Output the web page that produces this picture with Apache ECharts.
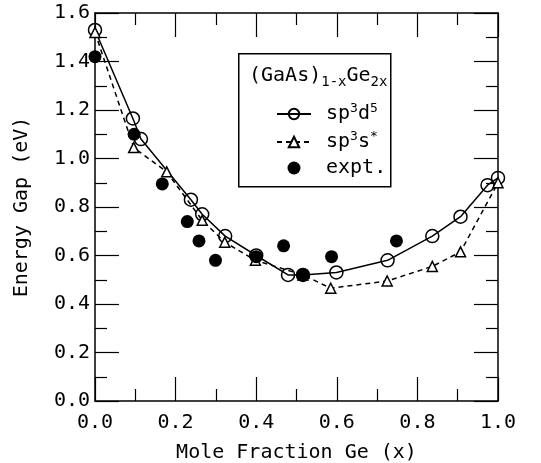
<!DOCTYPE html>
<html>
<head>
<meta charset="utf-8">
<script src="https://cdn.jsdelivr.net/npm/echarts@6/dist/echarts.min.js"></script>
<style>
html,body{margin:0;padding:0;background:#fff;}
#chart{width:541px;height:463px;}
</style>
</head>
<body>
<div id="chart"></div>
<script>
// sp3d5 (solid line, open circles)
var xSpd = [0.0, 0.094, 0.114, 0.238, 0.266, 0.323, 0.400, 0.479, 0.516, 0.599, 0.726, 0.837, 0.907, 0.974, 1.0];
var ySpd = [1.53, 1.165, 1.08, 0.83, 0.77, 0.68, 0.60, 0.52, 0.52, 0.53, 0.58, 0.68, 0.76, 0.89, 0.92];
// sp3s* (dashed line, open triangles)
var xSps = [0.0, 0.096, 0.178, 0.266, 0.322, 0.398, 0.516, 0.585, 0.725, 0.837, 0.907, 1.0];
var ySps = [1.52, 1.045, 0.945, 0.745, 0.655, 0.58, 0.52, 0.465, 0.495, 0.555, 0.615, 0.90];
// experiment (filled circles)
var xExp = [0.0, 0.097, 0.167, 0.229, 0.258, 0.299, 0.400, 0.468, 0.516, 0.587, 0.748];
var yExp = [1.42, 1.10, 0.895, 0.74, 0.66, 0.58, 0.595, 0.64, 0.52, 0.595, 0.66];

var xTicks = [0.0, 0.2, 0.4, 0.6, 0.8, 1.0];
var yTicks = [0.0, 0.2, 0.4, 0.6, 0.8, 1.0, 1.2, 1.4, 1.6];

function pairs(xs, ys){ return xs.map(function(x,i){ return [x, ys[i]]; }); }

var FONT = '"DejaVu Sans Mono", "Liberation Mono", monospace';
var chart = echarts.init(document.getElementById('chart'), null, {renderer:'canvas'});

function axisCommon(show){
  return {
    axisLine:{show:true, onZero:false, lineStyle:{color:'#000', width:1.5}},
    axisTick:{show:true, inside:true, length:24, lineStyle:{color:'#000', width:1.2}},
    minorTick:{show:true, splitNumber:2, length:12, lineStyle:{color:'#000', width:1.2}},
    splitLine:{show:false},
    axisLabel:{show:show, color:'#000', fontFamily:FONT, fontSize:20,
      formatter:function(v){ return v.toFixed(1); }}
  };
}

var xBottom = Object.assign({type:'value', position:'bottom', min:xTicks[0], max:xTicks[xTicks.length-1], interval:0.2,
  name:'Mole Fraction Ge (x)', nameLocation:'middle', nameGap:42,
  nameTextStyle:{color:'#000', fontFamily:FONT, fontSize:20}}, axisCommon(true));
xBottom.axisLabel.margin = 12;
var xTop = Object.assign({type:'value', position:'top', min:0, max:1, interval:0.2}, axisCommon(false));
var yLeft = Object.assign({type:'value', position:'left', min:yTicks[0], max:yTicks[yTicks.length-1], interval:0.2,
  name:'Energy Gap (eV)', nameLocation:'middle', nameGap:63,
  nameTextStyle:{color:'#000', fontFamily:FONT, fontSize:20}}, axisCommon(true));
yLeft.axisLabel.margin = 5;
var yRight = Object.assign({type:'value', position:'right', min:0, max:1.6, interval:0.2}, axisCommon(false));

var rich = {
  n:{fontFamily:FONT, fontSize:20, color:'#000', lineHeight:24},
  sup:{fontFamily:FONT, fontSize:13, color:'#000', lineHeight:24, verticalAlign:'top'}
};

var option = {
  backgroundColor:'#fff',
  animation:false,
  grid:{left:95, right:43, top:13, bottom:62, containLabel:false, outerBoundsMode:'none'},
  xAxis:[xBottom, xTop],
  yAxis:[yLeft, yRight],
  legend:{
    orient:'vertical', left:271, top:97, itemWidth:34, itemHeight:13, itemGap:6,
    data:['sp3d5','sp3s*','expt.'],
    formatter:function(name){
      if(name==='sp3d5') return '{n|sp}{sup|3}{n|d}{sup|5}';
      if(name==='sp3s*') return '{n|sp}{sup|3}{n|s}{sup|*}';
      return '{n|expt.}';
    },
    textStyle:{rich:rich, padding:[0,0,0,10]}
  },
  graphic:[
    {type:'rect', left:238, top:53, shape:{width:152, height:133},
      style:{fill:'transparent', stroke:'#000', lineWidth:1.5}, z:100},
    {type:'text', left:249, top:66,
      style:{text:'{t|(GaAs)}{s|1-x}{t|Ge}{s|2x}', rich:{
        t:{fontFamily:FONT, fontSize:20, fill:'#000', lineHeight:26},
        s:{fontFamily:FONT, fontSize:14, fill:'#000', lineHeight:26, verticalAlign:'bottom'}
      }}, z:100}
  ],
  series:[
    {name:'sp3d5', type:'line', data:pairs(xSpd, ySpd), clip:false,
      symbol:'circle', symbolSize:13,
      lineStyle:{color:'#000', width:1.5},
      itemStyle:{color:'transparent', borderColor:'#000', borderWidth:1.5}, z:2},
    {name:'sp3s*', type:'line', data:pairs(xSps, ySps), clip:false,
      symbol:'triangle', symbolSize:10,
      lineStyle:{color:'#000', width:1.5, type:[5,4]},
      itemStyle:{color:'#fff', borderColor:'#000', borderWidth:1.5}, z:3},
    {name:'expt.', type:'scatter', data:pairs(xExp, yExp), clip:false,
      symbol:'circle', symbolSize:13,
      itemStyle:{color:'#000', opacity:1}, z:4}
  ]
};
chart.setOption(option);
</script>
</body>
</html>
